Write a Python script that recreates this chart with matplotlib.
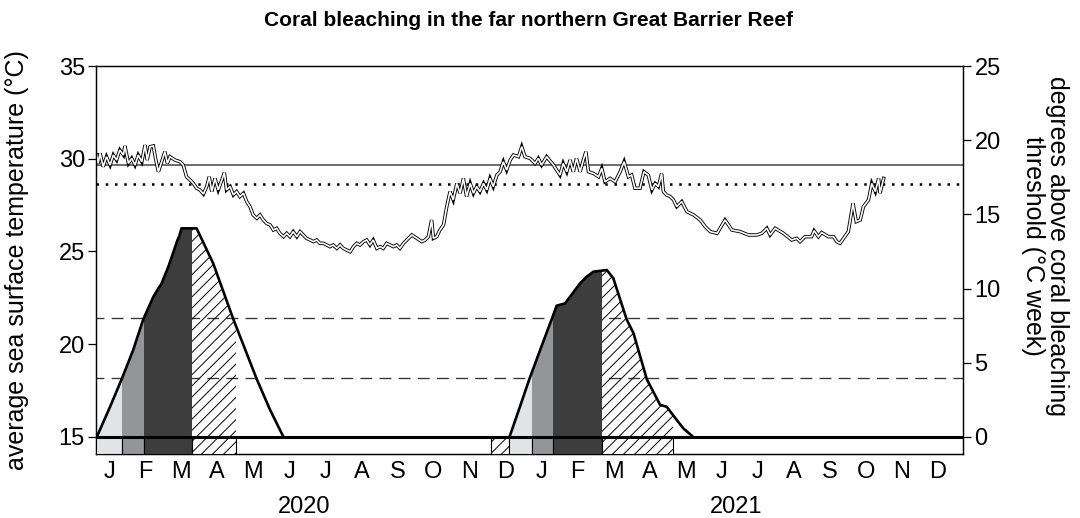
import numpy as np
import matplotlib
matplotlib.use("Agg")
import matplotlib.pyplot as plt
from matplotlib.patches import Rectangle
from matplotlib.transforms import blended_transform_factory

plt.rcParams["font.family"] = ["Liberation Sans", "DejaVu Sans"]
plt.rcParams["hatch.color"] = "black"
plt.rcParams["hatch.linewidth"] = 0.7

# x values are months counted from 1 Jan 2020 (0 = start of Jan 2020)
month_labels = list("JFMAMJJASOND") * 2
years = ["2020", "2021"]

# average sea surface temperature (deg C)
sst_month = [0.16, 0.20, 0.25, 0.34, 0.43, 0.53, 0.62, 0.71, 0.80, 0.90, 0.94, 1.04, 1.13, 1.22,
             1.31, 1.41, 1.50, 1.56, 1.64, 1.73, 1.79, 1.87, 1.96, 2.05, 2.12, 2.19, 2.33, 2.47,
             2.56, 2.65, 2.75, 2.84, 2.93, 3.02, 3.12, 3.21, 3.28, 3.35, 3.44, 3.53, 3.63, 3.70,
             3.76, 3.86, 3.95, 4.04, 4.13, 4.23, 4.32, 4.41, 4.50, 4.60, 4.69, 4.78, 4.87, 4.97,
             5.06, 5.15, 5.24, 5.34, 5.43, 5.52, 5.61, 5.71, 5.80, 5.89, 5.98, 6.08, 6.17, 6.26,
             6.35, 6.45, 6.54, 6.63, 6.72, 6.82, 6.91, 7.00, 7.09, 7.19, 7.28, 7.37, 7.46, 7.56,
             7.65, 7.74, 7.83, 7.93, 8.02, 8.11, 8.20, 8.30, 8.39, 8.48, 8.57, 8.67, 8.76, 8.90,
             9.04, 9.18, 9.27, 9.36, 9.45, 9.50, 9.59, 9.68, 9.78, 9.87, 9.96, 10.05, 10.15, 10.24,
             10.33, 10.42, 10.52, 10.61, 10.70, 10.79, 10.89, 10.98, 11.07, 11.16, 11.26, 11.35,
             11.44, 11.53, 11.63, 11.72, 11.86, 11.95, 12.04, 12.18, 12.32, 12.41, 12.50, 12.64,
             12.83, 13.01, 13.10, 13.20, 13.29, 13.38, 13.47, 13.57, 13.66, 13.73, 13.80, 13.94,
             14.08, 14.17, 14.26, 14.40, 14.54, 14.68, 14.79, 14.91, 15.00, 15.09, 15.23, 15.34,
             15.46, 15.56, 15.65, 15.74, 15.83, 15.88, 15.97, 16.07, 16.16, 16.25, 16.39, 16.53,
             16.72, 16.90, 17.04, 17.18, 17.37, 17.59, 17.78, 18.01, 18.24, 18.47, 18.61, 18.75,
             18.84, 18.98, 19.21, 19.44, 19.58, 19.67, 19.81, 19.99, 20.06, 20.18, 20.27, 20.46,
             20.60, 20.69, 20.78, 20.88, 21.01, 21.14, 21.23, 21.34, 21.43, 21.57, 21.66, 21.76,
             21.85, 21.89, 21.99]
sst_temp = [30.20, 29.75, 30.29, 29.57, 30.11, 29.66, 30.20, 29.93, 30.47, 30.20, 30.69, 29.75, 30.02, 29.66,
            30.20, 29.84, 30.74, 29.93, 30.65, 30.69, 30.02, 29.30, 29.84, 30.38, 29.75, 30.11, 29.93, 29.84,
            29.66, 29.03, 28.85, 28.67, 28.41, 28.32, 28.10, 28.50, 29.03, 28.23, 28.94, 28.32, 28.85, 29.25,
            28.32, 28.50, 28.05, 28.23, 27.96, 28.14, 27.69, 27.42, 26.97, 26.79, 26.97, 26.70, 26.52, 26.43,
            26.16, 26.25, 25.98, 25.80, 25.98, 25.80, 26.07, 25.80, 26.07, 25.89, 25.71, 25.62, 25.53, 25.62,
            25.44, 25.44, 25.35, 25.26, 25.35, 25.17, 25.35, 25.17, 25.08, 24.99, 25.26, 25.44, 25.35, 25.53,
            25.62, 25.35, 25.62, 25.17, 25.26, 25.17, 25.44, 25.35, 25.26, 25.35, 25.17, 25.44, 25.62, 25.89,
            25.71, 25.53, 25.62, 25.80, 26.70, 25.71, 25.80, 26.16, 26.43, 27.42, 28.23, 27.78, 28.67, 28.14,
            28.94, 27.96, 28.67, 28.14, 28.50, 28.23, 28.67, 28.32, 28.94, 28.50, 29.12, 29.30,
            29.84, 29.39, 29.93, 30.20, 30.11, 30.65, 30.11, 30.02, 29.75, 30.02, 29.66, 30.11,
            29.66, 29.12, 29.75, 29.30, 29.93, 29.30, 30.02, 29.30, 29.93, 30.38, 29.30, 29.21,
            29.03, 29.48, 28.76, 28.94, 28.76, 29.30, 29.84, 29.03, 29.12, 28.41, 28.41, 29.30,
            29.12, 28.32, 28.67, 28.50, 29.21, 28.23, 28.05, 27.96, 27.78, 27.42, 27.69, 27.15,
            26.97, 26.70, 26.34, 26.07, 25.98, 26.70, 26.16, 26.07, 25.89, 25.89, 25.98, 26.25,
            25.89, 26.25, 25.98, 25.62, 25.71, 25.53, 25.80, 25.80, 26.12, 25.80, 26.02, 25.80,
            25.80, 25.53, 25.44, 25.71, 26.07, 27.60, 26.61, 26.70, 27.42, 27.78, 28.67, 28.23,
            28.94, 28.14, 28.94]

bleach_threshold = 29.68
mmm_level = 28.64
dhw_levels = [4, 8]

# degree heating weeks (deg C week)
dhw2020_month = [0.16, 0.53, 0.85, 1.17, 1.45, 1.73, 1.88, 1.95, 2.15, 2.40, 2.45, 2.51, 2.93,
                 3.39, 3.95, 4.60, 4.97, 5.34]
dhw2020_val = [0.0, 2.04, 3.89, 5.86, 7.93, 9.45, 10.05, 10.30, 11.5, 13.27, 13.54, 14.06, 14.06,
               11.7, 7.93, 3.89, 1.82, 0.0]
dhw2021_month = [11.61, 11.90, 12.16, 12.46, 12.78, 12.92, 13.15, 13.29, 13.57, 13.75, 13.94,
                 14.31, 14.49, 14.86, 15.05, 15.42, 15.79, 15.97, 16.25, 16.43, 16.71]
dhw2021_val = [0.0, 2.04, 3.89, 5.86, 7.93, 8.85, 9.0, 9.45, 10.36, 10.8, 11.14,
               11.25, 10.7, 7.93, 7.0, 3.89, 2.16, 2.04, 1.15, 0.59, 0.0]

# alert level bands (start, end, level)
band_start = [0.139, 0.87, 1.47, 2.80, 11.09, 11.61, 12.23, 12.83, 14.17]
band_end = [0.87, 1.47, 2.80, 4.02, 11.61, 12.23, 12.83, 14.17, 16.14]
band_level = ["watch", "warning", "alert", "hatch", "hatch", "watch", "warning", "alert", "hatch"]

level_colors = {"watch": "#e2e3e5", "warning": "#939598", "alert": "#3d3d3d", "hatch": "none"}

fig = plt.figure(figsize=(10.8, 5.18), dpi=100)
ax = fig.add_axes([96 / 1080, 64 / 518, 867.3 / 1080, 388 / 518])
ax2 = ax.twinx()

ax.set_xlim(0.139, 24.2)
ax.set_ylim(14.083, 35)
ax2.set_ylim(-1.146, 25)

# sea surface temperature and thresholds
ax.axhline(bleach_threshold, color="#444444", lw=1.1, zorder=2)
ax.axhline(mmm_level, color="black", lw=1.8, ls=(0, (1, 2.7)), zorder=2)
ax.plot(sst_month, sst_temp, color="black", lw=2.5, zorder=3, solid_joinstyle="miter")
ax.plot(sst_month, sst_temp, color="white", lw=1.2, zorder=4, solid_joinstyle="miter")

# DHW reference lines
for lvl in dhw_levels:
    ax2.axhline(lvl, color="#333333", lw=0.95, ls=(3, (9, 5.5)), zorder=1)

# coloured fill under the DHW curves, clipped to each band
for xs, ys in [(dhw2020_month, dhw2020_val), (dhw2021_month, dhw2021_val)]:
    for a, b, lev in zip(band_start, band_end, band_level):
        if b <= xs[0] or a >= xs[-1]:
            continue
        if lev == "hatch":
            poly = ax2.fill_between(xs, 0, ys, facecolor="none", edgecolor="black",
                                    hatch="///", linewidth=0, zorder=2)
        else:
            poly = ax2.fill_between(xs, 0, ys, facecolor=level_colors[lev],
                                    linewidth=0, zorder=2)
        clip = Rectangle((a, 0), b - a, 30, transform=ax2.transData)
        poly.set_clip_path(clip)
    ax2.plot(xs, ys, color="black", lw=1.9, zorder=4)

# alert level strip below zero
for a, b, lev in zip(band_start, band_end, band_level):
    if lev == "hatch":
        r = Rectangle((a, -1.146), b - a, 1.146, facecolor="white", edgecolor="black",
                      hatch="///", lw=0.8, zorder=3)
    else:
        r = Rectangle((a, -1.146), b - a, 1.146, facecolor=level_colors[lev],
                      edgecolor="black", lw=0.8, zorder=3)
    ax2.add_patch(r)

ax2.axhline(0, color="black", lw=2.2, zorder=5)

# ticks and labels
ax.set_xticks(np.arange(24) + 0.5)
ax.set_xticklabels(month_labels, fontsize=17)
ax.tick_params(axis="x", length=0, pad=5)
ax.set_yticks([15, 20, 25, 30, 35])
ax.tick_params(axis="y", length=6, width=0.9, labelsize=17, pad=2)
ax2.set_yticks([0, 5, 10, 15, 20, 25])
ax2.tick_params(axis="y", length=6, width=0.9, labelsize=17, pad=2)
for sp in list(ax.spines.values()) + list(ax2.spines.values()):
    sp.set_linewidth(0.9)

ax.set_ylabel("average sea surface temperature (°C)", fontsize=18, labelpad=21)
fig.text(0.968, 0.525, "degrees above coral bleaching\nthreshold (°C week)", fontsize=18,
         rotation=-90, ha="center", va="center", multialignment="center", linespacing=1.0)

trans = blended_transform_factory(ax.transData, ax.transAxes)
ax.text(5.9, -0.137, years[0], transform=trans, ha="center", va="center", fontsize=17)
ax.text(17.9, -0.137, years[1], transform=trans, ha="center", va="center", fontsize=17)

fig.text(528 / 1080, 1 - 20 / 518, "Coral bleaching in the far northern Great Barrier Reef",
         ha="center", va="center", fontsize=15, fontweight="bold")

fig.savefig("out.png", dpi=100)
